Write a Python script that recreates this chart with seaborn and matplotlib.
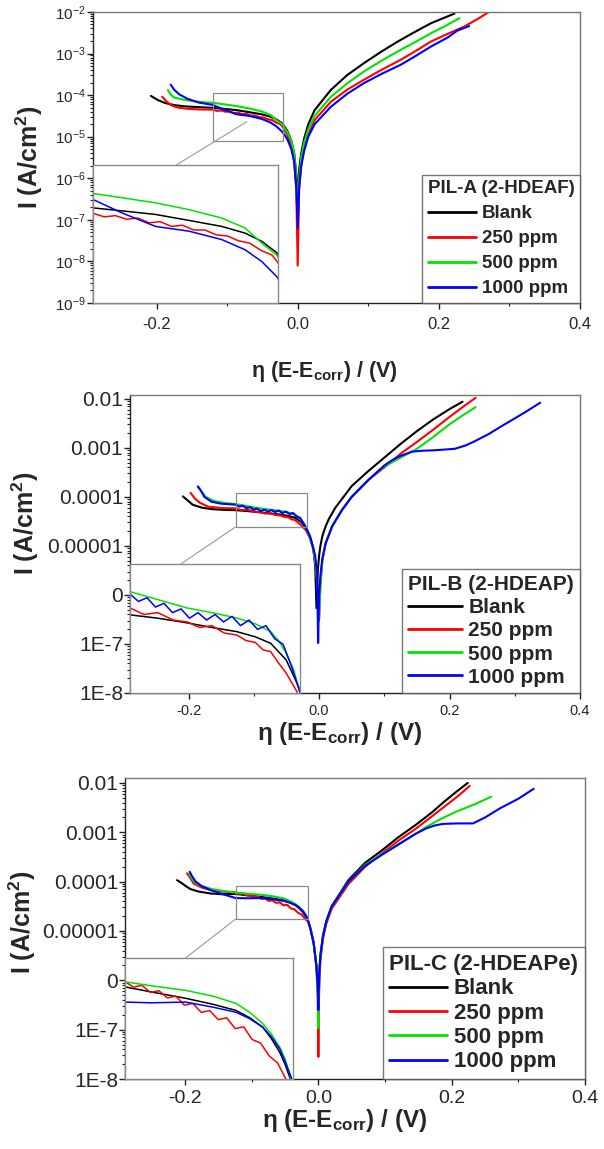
import numpy as np
import pandas as pd
import matplotlib
matplotlib.use("Agg")
import matplotlib.pyplot as plt
from matplotlib.patches import Rectangle, ConnectionPatch
from matplotlib.ticker import (FixedLocator, FixedFormatter, LogLocator,
                               MultipleLocator, NullFormatter)
import seaborn as sns

# legend entries and colours (same for the three panels)
series = ["Blank", "250 ppm", "500 ppm", "1000 ppm"]
palette = ["#000000", "#ff0000", "#00e400", "#0000ff"]

x_ticks = [-0.2, 0.0, 0.2, 0.4]
x_ticklabels = ["-0.2", "0.0", "0.2", "0.4"]
decade_ticks = [1e-8, 1e-7, 1e-6, 1e-5, 1e-4, 1e-3, 1e-2]
decade_labels = ["1E-8", "1E-7", "0", "0.00001", "0.0001", "0.001", "0.01"]

# ---------------- PIL-A : potential (V) and log10 of current ----------------
a_blank_x = [-0.208, -0.198, -0.188, -0.175, -0.16, -0.14, -0.1205, -0.105, -0.087, -0.069,
             -0.0515, -0.039, -0.03, -0.022, -0.015, -0.009, -0.005, -0.002, 0.0, 0.002,
             0.005, 0.009, 0.015, 0.024, 0.047, 0.07, 0.094, 0.118, 0.142, 0.166, 0.189, 0.222]
a_blank_log = [-4.02, -4.12, -4.19, -4.24, -4.27, -4.29, -4.305, -4.33, -4.36, -4.41,
               -4.46, -4.516, -4.585, -4.68, -4.85, -5.1, -5.4, -5.9, -6.5, -5.8,
               -5.4, -5.05, -4.7, -4.36, -3.875, -3.52, -3.23, -2.96, -2.71, -2.48, -2.27, -2.04]

a_250_x = [-0.192, -0.186, -0.18, -0.17, -0.155, -0.14,
           -0.1205, -0.1145, -0.1085, -0.1025, -0.0965, -0.0905, -0.0845, -0.0785, -0.0725,
           -0.0665, -0.0605, -0.0545, -0.0485, -0.0425, -0.0365, -0.0305, -0.0245, -0.0215,
           -0.015, -0.009, -0.005, -0.002, 0.0, 0.002, 0.005, 0.009, 0.015, 0.024, 0.047,
           0.07, 0.094, 0.12, 0.146, 0.168, 0.189, 0.212, 0.236, 0.255, 0.271]
a_250_log = [-4.04, -4.15, -4.24, -4.30, -4.33, -4.345,
             -4.35, -4.38, -4.37, -4.40, -4.39, -4.43, -4.42, -4.46, -4.45,
             -4.49, -4.49, -4.53, -4.54, -4.58, -4.60, -4.66, -4.70, -4.76,
             -4.95, -5.2, -5.6, -6.3, -8.1, -6.3, -5.7, -5.3, -4.95, -4.6, -4.16,
             -3.87, -3.63, -3.38, -3.15, -2.93, -2.71, -2.53, -2.35, -2.17, -2.0]

a_500_x = [-0.184, -0.18, -0.176, -0.165, -0.15, -0.135, -0.1205, -0.105, -0.087, -0.069,
           -0.0515, -0.039, -0.03, -0.022, -0.015, -0.009, -0.005, -0.002, 0.0, 0.002,
           0.005, 0.009, 0.015, 0.024, 0.047, 0.07, 0.094, 0.12, 0.146, 0.168, 0.189, 0.21, 0.229]
a_500_log = [-3.88, -3.98, -4.05, -4.10, -4.14, -4.17, -4.185, -4.22, -4.263, -4.32,
             -4.39, -4.473, -4.60, -4.70, -4.88, -5.1, -5.4, -6.0, -6.8, -6.0,
             -5.5, -5.15, -4.82, -4.5, -4.04, -3.72, -3.43, -3.16, -2.91, -2.71, -2.51, -2.33, -2.15]

a_1000_x = [-0.18, -0.175, -0.168, -0.156, -0.14, -0.1205, -0.105, -0.087, -0.069, -0.0515,
            -0.039, -0.03, -0.022, -0.015, -0.009, -0.005, -0.002, 0.0, 0.002, 0.005,
            0.009, 0.015, 0.024, 0.047, 0.07, 0.094, 0.12, 0.146, 0.168, 0.189, 0.212, 0.226, 0.243]
a_1000_log = [-3.75, -3.87, -3.98, -4.09, -4.18, -4.235, -4.347, -4.46, -4.50, -4.57,
              -4.655, -4.754, -4.88, -5.05, -5.3, -5.6, -6.2, -7.2, -6.2, -5.7,
              -5.35, -5.0, -4.7, -4.28, -3.97, -3.71, -3.48, -3.27, -3.05, -2.83, -2.62, -2.45, -2.34]

# ---------------- PIL-B ----------------
b_blank_x = [-0.209, -0.2, -0.194, -0.18, -0.165, -0.148, -0.128, -0.11, -0.091, -0.075,
             -0.059, -0.047, -0.037, -0.027, -0.019, -0.013, -0.009, -0.006, -0.004, -0.002,
             0.0, 0.002, 0.005, 0.01, 0.015, 0.025, 0.05, 0.075, 0.1, 0.125,
             0.15, 0.175, 0.2, 0.22]
b_blank_log = [-3.99, -4.09, -4.16, -4.22, -4.25, -4.265, -4.272, -4.29, -4.315, -4.34,
               -4.362, -4.39, -4.425, -4.514, -4.657, -4.85, -5.05, -5.4, -6.27, -5.5,
               -5.2, -5.0, -4.8, -4.6, -4.45, -4.22, -3.78, -3.48, -3.2, -2.92,
               -2.66, -2.42, -2.21, -2.06]

b_250_x = [-0.197, -0.19, -0.183, -0.17, -0.148, -0.128, -0.119, -0.11, -0.1, -0.091,
           -0.083, -0.075, -0.067, -0.059, -0.053, -0.047, -0.042, -0.037, -0.032, -0.027,
           -0.02, -0.014, -0.009, -0.005, -0.002, 0.0, 0.002, 0.005, 0.01, 0.02,
           0.035, 0.05, 0.076, 0.1, 0.127, 0.15, 0.175, 0.2, 0.22, 0.24]
b_250_log = [-3.92, -4.04, -4.12, -4.2, -4.23, -4.235, -4.27, -4.26, -4.3, -4.31,
             -4.34, -4.33, -4.37, -4.38, -4.41, -4.42, -4.46, -4.47, -4.53, -4.585,
             -4.685, -4.85, -5.05, -5.4, -5.9, -6.51, -5.8, -5.3, -4.95, -4.6,
             -4.27, -4.0, -3.65, -3.4, -3.1, -2.88, -2.63, -2.37, -2.17, -1.98]

b_500_x = [-0.185, -0.18, -0.174, -0.162, -0.148, -0.128, -0.11, -0.091, -0.075, -0.059,
           -0.047, -0.037, -0.032, -0.027, -0.022, -0.018, -0.014, -0.009, -0.005, -0.002,
           0.0, 0.002, 0.005, 0.01, 0.02, 0.035, 0.05, 0.076, 0.1, 0.125,
           0.15, 0.175, 0.2, 0.22, 0.24]
b_500_log = [-3.79, -3.9, -4.0, -4.08, -4.12, -4.147, -4.19, -4.235, -4.26, -4.289,
             -4.32, -4.362, -4.41, -4.477, -4.57, -4.692, -4.85, -5.05, -5.4, -5.9,
             -6.47, -5.8, -5.3, -4.95, -4.6, -4.27, -4.0, -3.65, -3.38, -3.2,
             -3.02, -2.78, -2.52, -2.34, -2.17]

b_1000_x = [-0.186, -0.18, -0.176, -0.165, -0.15, -0.138,
            -0.128, -0.1225, -0.117, -0.1115, -0.106, -0.1005, -0.095, -0.0895, -0.084, -0.0785,
            -0.073, -0.0675, -0.062, -0.0565, -0.051, -0.0455, -0.04, -0.0345, -0.029, -0.0235,
            -0.018, -0.014, -0.01, -0.006, -0.003, -0.0015, 0.0, 0.002, 0.005, 0.01,
            0.02, 0.035, 0.05, 0.076, 0.1, 0.111, 0.122, 0.142, 0.157, 0.177,
            0.208, 0.225, 0.238, 0.26, 0.279, 0.3, 0.32, 0.339]
b_1000_log = [-3.79, -3.9, -4.0, -4.1, -4.14, -4.15,
              -4.16, -4.20, -4.18, -4.23, -4.21, -4.26, -4.24, -4.29, -4.26, -4.30,
              -4.27, -4.31, -4.28, -4.33, -4.30, -4.35, -4.33, -4.40, -4.43, -4.55,
              -4.69, -4.8, -5.0, -5.2, -5.6, -6.98, -6.0, -5.6, -5.25, -4.95,
              -4.6, -4.27, -4.0, -3.65, -3.36, -3.26, -3.18, -3.08, -3.06, -3.05,
              -3.02, -2.95, -2.87, -2.72, -2.565, -2.4, -2.24, -2.08]

# ---------------- PIL-C ----------------
c_blank_x = [-0.212, -0.205, -0.2, -0.192, -0.18, -0.162, -0.145, -0.124, -0.105, -0.0847,
             -0.067, -0.052, -0.043, -0.0346, -0.029, -0.0235, -0.02, -0.017, -0.012, -0.007,
             -0.003, -0.001, 0.0, 0.001, 0.003, 0.007, 0.012, 0.02, 0.045, 0.07,
             0.096, 0.12, 0.146, 0.17, 0.187, 0.205, 0.224]
c_blank_log = [-3.97, -4.03, -4.08, -4.15, -4.2, -4.24, -4.255, -4.249, -4.28, -4.312,
               -4.345, -4.379, -4.42, -4.472, -4.535, -4.612, -4.68, -4.752, -4.95, -5.25,
               -5.7, -6.0, -6.3, -5.9, -5.5, -5.1, -4.8, -4.5, -3.97, -3.62,
               -3.36, -3.1, -2.85, -2.6, -2.4, -2.2, -2.0]

c_250_x = [-0.197, -0.192, -0.187, -0.175, -0.162, -0.145, -0.135,
           -0.124, -0.1185, -0.113, -0.1075, -0.102, -0.0965, -0.091, -0.0855, -0.08, -0.0745,
           -0.069, -0.0635, -0.058, -0.0525, -0.047, -0.0415, -0.036, -0.0305, -0.025, -0.0195,
           -0.015, -0.011, -0.007, -0.003, -0.001, 0.0, 0.001, 0.003, 0.007, 0.012,
           0.02, 0.045, 0.07, 0.096, 0.12, 0.146, 0.17, 0.19, 0.21, 0.227]
c_250_log = [-3.83, -3.93, -4.04, -4.12, -4.17, -4.2, -4.21,
             -4.22, -4.25, -4.24, -4.28, -4.27, -4.31, -4.30, -4.35, -4.34, -4.39,
             -4.38, -4.43, -4.42, -4.48, -4.47, -4.54, -4.56, -4.63, -4.67, -4.76,
             -4.82, -4.98, -5.25, -5.7, -6.3, -7.55, -6.3, -5.6, -5.15, -4.85,
             -4.55, -4.05, -3.7, -3.42, -3.17, -2.93, -2.68, -2.47, -2.26, -2.06]

c_500_x = [-0.194, -0.19, -0.185, -0.175, -0.16, -0.142, -0.124, -0.105, -0.0847, -0.067,
           -0.052, -0.043, -0.0346, -0.029, -0.0235, -0.02, -0.017, -0.012, -0.007, -0.003,
           -0.001, 0.0, 0.001, 0.003, 0.007, 0.012, 0.02, 0.045, 0.07, 0.096,
           0.12, 0.146, 0.162, 0.185, 0.207, 0.235, 0.259]
c_500_log = [-3.84, -3.93, -4.02, -4.09, -4.15, -4.19, -4.221, -4.245, -4.268, -4.30,
             -4.34, -4.39, -4.452, -4.51, -4.584, -4.65, -4.731, -4.95, -5.25, -5.7,
             -6.2, -6.97, -6.1, -5.5, -5.1, -4.8, -4.5, -4.0, -3.66, -3.44,
             -3.24, -3.03, -2.89, -2.72, -2.58, -2.43, -2.28]

c_1000_x = [-0.193, -0.189, -0.184, -0.175, -0.16, -0.142, -0.124, -0.107, -0.0847, -0.067,
            -0.052, -0.043, -0.0346, -0.029, -0.0235, -0.02, -0.016, -0.012, -0.007, -0.003,
            -0.001, 0.0, 0.001, 0.003, 0.007, 0.012, 0.02, 0.045, 0.07, 0.096,
            0.12, 0.146, 0.162, 0.175, 0.187, 0.21, 0.232, 0.25, 0.273, 0.3, 0.323]
c_1000_log = [-3.80, -3.90, -4.0, -4.09, -4.18, -4.26, -4.333, -4.337, -4.333, -4.361,
              -4.389, -4.425, -4.472, -4.525, -4.592, -4.665, -4.752, -4.95, -5.25, -5.7,
              -6.1, -6.6, -6.0, -5.5, -5.1, -4.8, -4.5, -4.0, -3.68, -3.45,
              -3.25, -3.03, -2.92, -2.86, -2.83, -2.82, -2.82, -2.7, -2.51, -2.32, -2.12]


def make_frame(xs, logs):
    parts = []
    for name, x, lg in zip(series, xs, logs):
        parts.append(pd.DataFrame({"E": x, "I": 10.0 ** np.array(lg), "series": name}))
    return pd.concat(parts, ignore_index=True)


sns.set_style("ticks")
plt.rcParams["font.family"] = ["Liberation Sans", "DejaVu Sans"]
plt.rcParams["mathtext.fontset"] = "custom"
plt.rcParams["mathtext.rm"] = "Liberation Sans"
plt.rcParams["mathtext.bf"] = "Liberation Sans:bold"
plt.rcParams["mathtext.it"] = "Liberation Sans:italic"
plt.rcParams["axes.unicode_minus"] = False

fig = plt.figure(figsize=(6.04, 11.49), dpi=100)

panels = [
    dict(df=make_frame([a_blank_x, a_250_x, a_500_x, a_1000_x],
                       [a_blank_log, a_250_log, a_500_log, a_1000_log]),
         rect=[0.154, 0.7363, 0.8063, 0.2533], ylim=(1e-9, 1e-2), sci=True,
         title="PIL-A (2-HDEAF)", leg_fs=13.5, leg_sp=0.42, ytick_fs=11, xtick_fs=12,
         xtick_pad=6, xlab_fs=15.5, ylab_fs=18, xlab_pos=(0.476, -0.235),
         ylab_pos=(-0.13, 0.5),
         inset=[0.0, 0.0, 0.38, 0.474], zoom_x=(-0.1205, -0.0213), zoom_y=(-5.10, -3.947),
         box_x=(-0.1205, -0.0213), box_y=(-5.10, -3.947), conn=(0.49, 0.6, 0.45)),
    dict(df=make_frame([b_blank_x, b_250_x, b_500_x, b_1000_x],
                       [b_blank_log, b_250_log, b_500_log, b_1000_log]),
         rect=[0.2152, 0.3969, 0.745, 0.2594], ylim=(1e-8, 1.2e-2), sci=False,
         title="PIL-B (2-HDEAP)", leg_fs=15, leg_sp=0.2, ytick_fs=15, xtick_fs=10.5,
         xtick_pad=4, xlab_fs=17.5, ylab_fs=18, xlab_pos=(0.467, -0.135),
         ylab_pos=(-0.233, 0.57),
         inset=[0.0, 0.0, 0.378, 0.433], zoom_x=(-0.128, -0.018), zoom_y=(-4.692, -3.998),
         box_x=(-0.128, -0.018), box_y=(-4.612, -3.918), conn=(0.0, 1.0, 0.30)),
    dict(df=make_frame([c_blank_x, c_250_x, c_500_x, c_1000_x],
                       [c_blank_log, c_250_log, c_500_log, c_1000_log]),
         rect=[0.207, 0.0609, 0.7616, 0.262], ylim=(1e-8, 1.26e-2), sci=False,
         title="PIL-C (2-HDEAPe)", leg_fs=16, leg_sp=0.15, ytick_fs=15, xtick_fs=14,
         xtick_pad=4, xlab_fs=17.5, ylab_fs=18, xlab_pos=(0.478, -0.137),
         ylab_pos=(-0.224, 0.52),
         inset=[0.0, 0.0, 0.365, 0.402], zoom_x=(-0.124, -0.015), zoom_y=(-4.759, -4.089),
         box_x=(-0.124, -0.015), box_y=(-4.759, -4.089), conn=(0.0, 1.0, 0.36)),
]

for p in panels:
    ax = fig.add_axes(p["rect"])
    ax.set_yscale("log")
    sns.lineplot(data=p["df"], x="E", y="I", hue="series", hue_order=series,
                 palette=palette, sort=False, estimator=None, lw=1.5, ax=ax, legend=False)
    ax.set_xlim(-0.29, 0.4)
    ax.set_ylim(*p["ylim"])

    # axes frame and ticks
    for side, sp in ax.spines.items():
        sp.set_color("#222222" if side in ("left", "bottom") else "#777777")
        sp.set_linewidth(1.0)
    ax.xaxis.set_major_locator(FixedLocator(x_ticks))
    ax.xaxis.set_major_formatter(FixedFormatter(x_ticklabels))
    ax.xaxis.set_minor_locator(MultipleLocator(0.1))
    if p["sci"]:
        ax.yaxis.set_major_locator(LogLocator(base=10, numticks=20))
    else:
        ax.yaxis.set_major_locator(FixedLocator(decade_ticks))
        ax.yaxis.set_major_formatter(FixedFormatter(decade_labels))
    ax.yaxis.set_minor_locator(LogLocator(base=10, subs=np.arange(2, 10), numticks=20))
    ax.yaxis.set_minor_formatter(NullFormatter())
    ax.tick_params(which="major", direction="out", length=4, width=1, color="#222222")
    ax.tick_params(which="minor", direction="out", length=2.5, width=0.8, color="#222222")
    ax.tick_params(axis="y", labelsize=p["ytick_fs"], pad=1)
    ax.tick_params(axis="x", labelsize=p["xtick_fs"], pad=p["xtick_pad"])

    ax.set_xlabel(r"η (E-E$_{\mathbf{corr}}$) / (V)", fontsize=p["xlab_fs"], fontweight="bold")
    ax.set_ylabel(r"I (A/cm$^{\mathbf{2}}$)", fontsize=p["ylab_fs"], fontweight="bold")
    ax.xaxis.label.set_va("center")
    ax.yaxis.label.set_va("center")
    ax.xaxis.set_label_coords(*p["xlab_pos"])
    ax.yaxis.set_label_coords(*p["ylab_pos"])

    # zoom box on the main plot
    bx0, bx1 = p["box_x"]
    by0, by1 = 10 ** p["box_y"][0], 10 ** p["box_y"][1]
    ax.add_patch(Rectangle((bx0, by0), bx1 - bx0, by1 - by0, fill=False,
                           edgecolor="#8a8a8a", lw=0.9, zorder=5))

    # inset with the magnified cathodic branch
    iax = ax.inset_axes(p["inset"])
    iax.set_yscale("log")
    sns.lineplot(data=p["df"], x="E", y="I", hue="series", hue_order=series,
                 palette=palette, sort=False, estimator=None, lw=1.1, ax=iax, legend=False)
    iax.set_xlim(*p["zoom_x"])
    iax.set_ylim(10 ** p["zoom_y"][0], 10 ** p["zoom_y"][1])
    iax.set_xlabel("")
    iax.set_ylabel("")
    iax.tick_params(which="both", length=0, labelleft=False, labelbottom=False)
    iax.set_facecolor("white")
    for sp in iax.spines.values():
        sp.set_color("#8a8a8a")
        sp.set_linewidth(1.0)

    fx, fy, tx = p["conn"]
    cx = bx0 + fx * (bx1 - bx0)
    cy = 10 ** (p["box_y"][1] - fy * (p["box_y"][1] - p["box_y"][0]))
    con = ConnectionPatch(xyA=(cx, cy), coordsA=ax.transData, xyB=(tx, 1.0),
                          coordsB=iax.transAxes, color="#9a9a9a", lw=0.8)
    fig.add_artist(con)

    handles = ax.get_lines()[:4]
    leg = ax.legend(handles, series, title=p["title"], loc="lower right",
                    borderaxespad=0, frameon=True, fancybox=False,
                    prop=dict(weight="bold", size=p["leg_fs"]),
                    title_fontproperties=dict(weight="bold", size=p["leg_fs"]),
                    alignment="left", handlelength=2.6, handletextpad=0.3,
                    labelspacing=p["leg_sp"], borderpad=0.3)
    leg.get_frame().set_edgecolor("#555555")
    leg.get_frame().set_linewidth(1.0)
    for h in leg.legend_handles:
        h.set_linewidth(2.0)

fig.savefig("out.png", dpi=100)
